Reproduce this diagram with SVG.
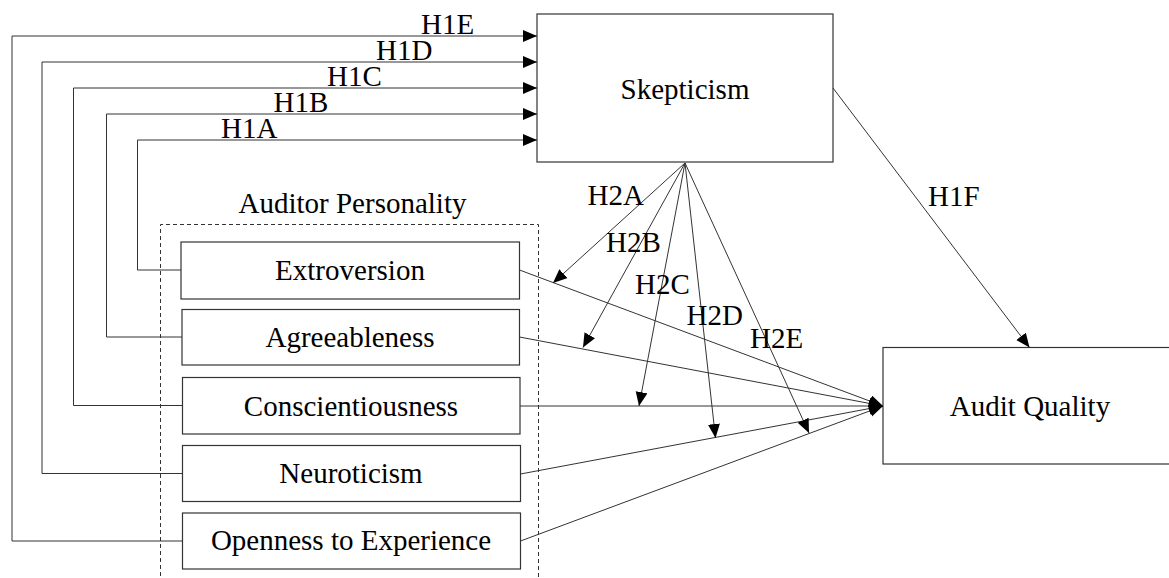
<svg xmlns="http://www.w3.org/2000/svg" width="1169" height="578" viewBox="0 0 1169 578">
<defs>
<style>
.box{fill:#fff;stroke:#333;stroke-width:1.2}
.t{font-family:"Liberation Serif","Times New Roman",serif;font-size:29px;fill:#000}
.c{text-anchor:middle}
.ln{fill:none;stroke:#333;stroke-width:1}
.dash{fill:none;stroke:#333;stroke-width:1;stroke-dasharray:4,3}
</style>
<marker id="ah" markerUnits="userSpaceOnUse" markerWidth="15" markerHeight="13" refX="14" refY="6" orient="auto">
<path d="M0,0 L14,6 L0,12 z" fill="#000"/>
</marker>
</defs>
<rect width="1169" height="578" fill="#fff"/>

<g id="auditor-personality">
<path class="dash" d="M160.5,590 V224.5 H538.5 V590"/>
<text class="t c" x="352.5" y="213">Auditor Personality</text>
</g>

<g id="skepticism">
<rect class="box" x="537" y="14" width="296" height="148"/>
<text class="t c" x="685" y="99">Skepticism</text>
</g>

<g id="audit-quality">
<rect class="box" x="883" y="347.5" width="300" height="116.5"/>
<text class="t c" x="1030" y="416">Audit Quality</text>
</g>

<g id="extroversion">
<rect class="box" x="181" y="242" width="338.5" height="57"/>
<text class="t c" x="350" y="280">Extroversion</text>
</g>
<g id="agreeableness">
<rect class="box" x="182" y="309.5" width="337.5" height="55.5"/>
<text class="t c" x="350" y="347">Agreeableness</text>
</g>
<g id="conscientiousness">
<rect class="box" x="182.5" y="377.5" width="337.5" height="56.5"/>
<text class="t c" x="351" y="416">Conscientiousness</text>
</g>
<g id="neuroticism">
<rect class="box" x="182.5" y="445.5" width="338" height="56"/>
<text class="t c" x="351" y="483">Neuroticism</text>
</g>
<g id="openness">
<rect class="box" x="182.5" y="513" width="338" height="56"/>
<text class="t c" x="351" y="550">Openness to Experience</text>
</g>

<g id="connectors">
<path class="ln" marker-end="url(#ah)" d="M181,270 H137.5 V140 H537"/>
<path class="ln" marker-end="url(#ah)" d="M182,337 H106.5 V114 H537"/>
<path class="ln" marker-end="url(#ah)" d="M182.5,405.5 H73.5 V88 H537"/>
<path class="ln" marker-end="url(#ah)" d="M182.5,473.5 H42 V62 H537"/>
<path class="ln" marker-end="url(#ah)" d="M182.5,541 H12 V36 H537"/>

<path class="ln" marker-end="url(#ah)" d="M519.5,270 L883,406"/>
<path class="ln" marker-end="url(#ah)" d="M519.5,337 L883,406"/>
<path class="ln" marker-end="url(#ah)" d="M520,406 L883,406"/>
<path class="ln" marker-end="url(#ah)" d="M520.5,474 L883,406"/>
<path class="ln" marker-end="url(#ah)" d="M520.5,541 L883,406"/>

<path class="ln" marker-end="url(#ah)" d="M685,163 L553,283"/>
<path class="ln" marker-end="url(#ah)" d="M685,163 L583,347.5"/>
<path class="ln" marker-end="url(#ah)" d="M685,163 L639,406"/>
<path class="ln" marker-end="url(#ah)" d="M685,163 L715.5,438"/>
<path class="ln" marker-end="url(#ah)" d="M685,163 L809,433"/>

<path class="ln" marker-end="url(#ah)" d="M833,88 L1029.5,347.5"/>

<text class="t" x="421" y="34">H1E</text>
<text class="t" x="376" y="59.5">H1D</text>
<text class="t" x="327" y="86">H1C</text>
<text class="t" x="273.5" y="111.5">H1B</text>
<text class="t" x="221" y="137.5">H1A</text>
<text class="t" x="587.5" y="205">H2A</text>
<text class="t" x="606" y="252">H2B</text>
<text class="t" x="635" y="294">H2C</text>
<text class="t" x="686.5" y="325">H2D</text>
<text class="t" x="750" y="348">H2E</text>
<text class="t" x="928" y="206">H1F</text>
</g>
</svg>
